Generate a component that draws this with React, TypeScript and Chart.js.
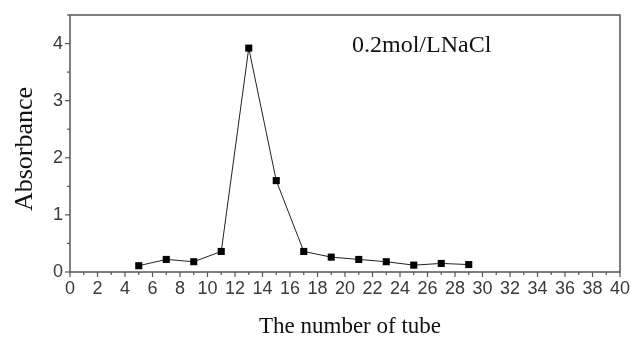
import React, { useEffect, useRef } from "react";
import { Chart, registerables } from "chart.js";

Chart.register(...registerables);

const tubeNumbers = [5, 7, 9, 11, 13, 15, 17, 19, 21, 23, 25, 27, 29];
const absorbance = [0.11, 0.22, 0.18, 0.36, 3.92, 1.6, 0.36, 0.26, 0.22, 0.18, 0.12, 0.15, 0.13];
const xTitle = "The number of tube";
const yTitle = "Absorbance";
const annotation = "0.2mol/LNaCl";

const axisColor = "#555555";
const labelColor = "#3a3a3a";

const framePlugin = {
  id: "frame",
  afterDraw(chart: any) {
    const { ctx, chartArea, scales } = chart;
    const { left, right, top, bottom } = chartArea;
    const xs = scales.x;
    const ys = scales.y;
    ctx.save();
    ctx.strokeStyle = axisColor;
    ctx.lineWidth = 1.5;
    ctx.beginPath();
    ctx.moveTo(left, top);
    ctx.lineTo(right, top);
    ctx.lineTo(right, bottom);
    ctx.lineTo(left, bottom);
    ctx.closePath();
    ctx.stroke();
    ctx.lineWidth = 1.2;
    for (let v = 0; v <= 40; v += 1) {
      const px = xs.getPixelForValue(v);
      const len = v % 2 === 0 ? 5 : 3;
      ctx.beginPath();
      ctx.moveTo(px, bottom);
      ctx.lineTo(px, bottom + len);
      ctx.stroke();
    }
    for (let v = 0; v <= 4.5; v += 0.5) {
      const py = ys.getPixelForValue(v);
      const len = Number.isInteger(v) ? 5 : 3;
      ctx.beginPath();
      ctx.moveTo(left, py);
      ctx.lineTo(left - len, py);
      ctx.stroke();
    }
    ctx.fillStyle = "#111";
    ctx.font = "23px 'Liberation Serif', 'Times New Roman', serif";
    ctx.textAlign = "center";
    ctx.textBaseline = "alphabetic";
    ctx.fillText(xTitle, 350, 333);
    ctx.save();
    ctx.translate(32, 149);
    ctx.rotate(-Math.PI / 2);
    ctx.font = "26px 'Liberation Serif', 'Times New Roman', serif";
    ctx.fillText(yTitle, 0, 0);
    ctx.restore();
    ctx.font = "24px 'Liberation Serif', 'Times New Roman', serif";
    ctx.textAlign = "left";
    ctx.fillText(annotation, 352, 52);
    ctx.restore();
  },
};

export default function App() {
  const ref = useRef<HTMLCanvasElement | null>(null);
  useEffect(() => {
    if (!ref.current) return;
    const chart = new Chart(ref.current, {
      type: "line",
      data: {
        datasets: [
          {
            data: tubeNumbers.map((x, i) => ({ x, y: absorbance[i] })),
            borderColor: "#222",
            borderWidth: 1,
            pointStyle: "rect",
            pointRadius: 5,
            pointBackgroundColor: "#000",
            pointBorderColor: "#000",
            pointBorderWidth: 0,
            tension: 0,
          },
        ],
      },
      options: {
        animation: false,
        responsive: false,
        maintainAspectRatio: false,
        layout: { padding: { top: 15, right: 11, left: 0, bottom: 0 } },
        plugins: { legend: { display: false }, tooltip: { enabled: false } },
        scales: {
          x: {
            type: "linear",
            min: 0,
            max: 40,
            grid: { display: false, drawTicks: false },
            border: { display: false },
            afterFit: (s: any) => {
              s.height = 65;
              s.paddingLeft = 0;
              s.paddingRight = 0;
            },
            ticks: {
              stepSize: 2,
              autoSkip: false,
              maxRotation: 0,
              padding: 6,
              color: labelColor,
              font: { family: "'Liberation Sans', Arial, sans-serif", size: 18 },
            },
          },
          y: {
            type: "linear",
            min: 0,
            max: 4.5,
            grid: { display: false, drawTicks: false },
            border: { display: false },
            afterFit: (s: any) => {
              s.width = 70;
              s.paddingTop = 0;
              s.paddingBottom = 0;
            },
            ticks: {
              stepSize: 1,
              padding: 7,
              color: labelColor,
              font: { family: "'Liberation Sans', Arial, sans-serif", size: 18 },
              callback: (v: any) => (Number.isInteger(v) ? String(v) : ""),
            },
          },
        },
      },
      plugins: [framePlugin],
    });
    return () => chart.destroy();
  }, []);
  return (
    <div style={{ position: "fixed", left: 0, top: 0, width: 631, height: 337, background: "#fff" }}>
      <canvas ref={ref} width={631} height={337} style={{ width: 631, height: 337 }} />
    </div>
  );
}
